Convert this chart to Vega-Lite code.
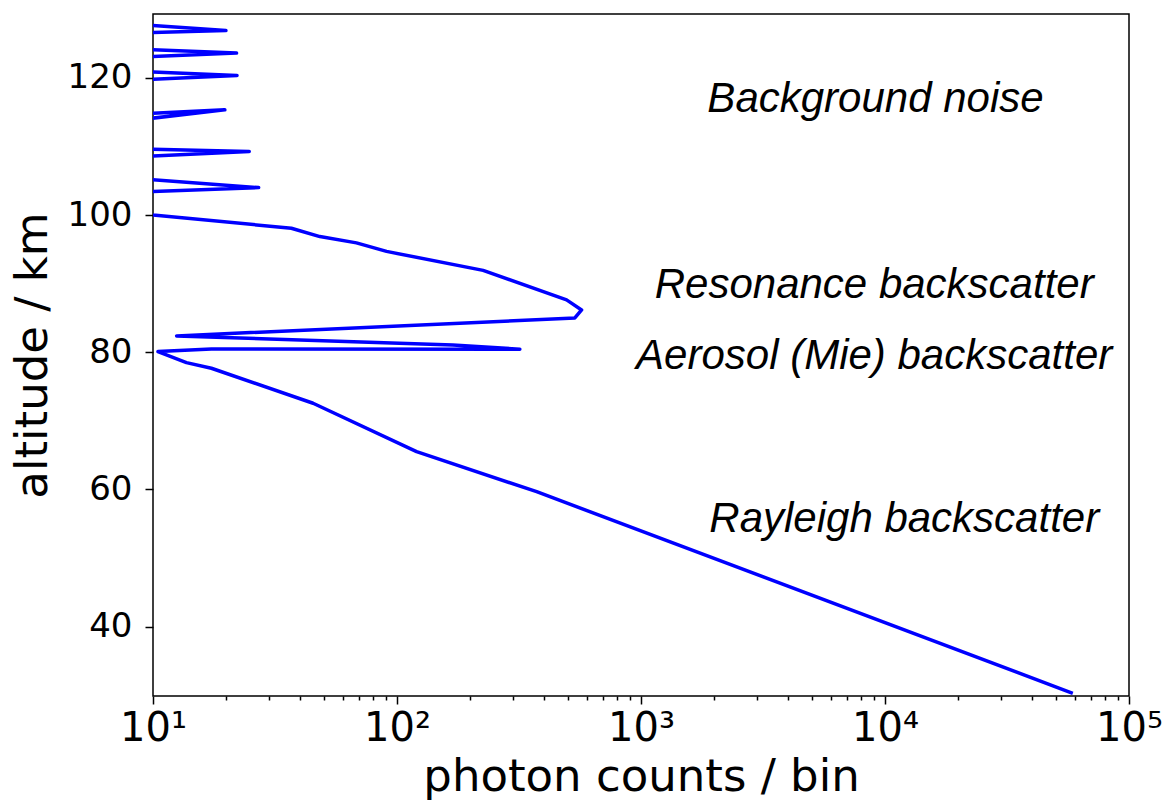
{
  "$schema": "https://vega.github.io/schema/vega-lite/v6.json",
  "width": 976,
  "height": 682,
  "autosize": {"type": "none"},
  "padding": {"left": 153, "top": 14, "right": 33, "bottom": 110},
  "background": "white",
  "config": {
    "view": {"stroke": "black", "strokeWidth": 1.5},
    "axis": {
      "grid": false,
      "domain": false,
      "tickColor": "black",
      "tickWidth": 1.5,
      "labelColor": "black",
      "titleColor": "black",
      "labelFont": "DejaVu Sans",
      "titleFont": "DejaVu Sans",
      "titleFontWeight": "normal"
    }
  },
  "datasets": {
    "profile": [
      {"i": 1, "counts": 3, "alt": 128.9},
      {"i": 2, "counts": 19.9, "alt": 126.89},
      {"i": 3, "counts": 3, "alt": 126.09},
      {"i": 4, "counts": 3, "alt": 124.82},
      {"i": 5, "counts": 22.0, "alt": 123.6},
      {"i": 6, "counts": 3, "alt": 122.35},
      {"i": 7, "counts": 3, "alt": 121.59},
      {"i": 8, "counts": 22.1, "alt": 120.33},
      {"i": 9, "counts": 3, "alt": 119.0},
      {"i": 10, "counts": 3, "alt": 113.99},
      {"i": 11, "counts": 19.7, "alt": 115.33},
      {"i": 12, "counts": 3, "alt": 111.98},
      {"i": 13, "counts": 3, "alt": 110.05},
      {"i": 14, "counts": 24.8, "alt": 109.25},
      {"i": 15, "counts": 3, "alt": 107.78},
      {"i": 16, "counts": 3, "alt": 106.5},
      {"i": 17, "counts": 27.1, "alt": 104.0},
      {"i": 18, "counts": 3, "alt": 102.72},
      {"i": 19, "counts": 10, "alt": 100.0},
      {"i": 20, "counts": 36.9, "alt": 98.08},
      {"i": 21, "counts": 48.3, "alt": 96.86},
      {"i": 22, "counts": 68.2, "alt": 95.94},
      {"i": 23, "counts": 90.6, "alt": 94.7},
      {"i": 24, "counts": 225.4, "alt": 91.93},
      {"i": 25, "counts": 495.5, "alt": 87.63},
      {"i": 26, "counts": 570.9, "alt": 86.17},
      {"i": 27, "counts": 535.7, "alt": 85.0},
      {"i": 28, "counts": 12.5, "alt": 82.38},
      {"i": 29, "counts": 169.4, "alt": 81.07},
      {"i": 30, "counts": 318.8, "alt": 80.44},
      {"i": 31, "counts": 17.35, "alt": 80.49},
      {"i": 32, "counts": 10.48, "alt": 80.1},
      {"i": 33, "counts": 13.71, "alt": 78.49},
      {"i": 34, "counts": 17.35, "alt": 77.67},
      {"i": 35, "counts": 45.3, "alt": 72.57},
      {"i": 36, "counts": 120.3, "alt": 65.51},
      {"i": 37, "counts": 373.5, "alt": 59.68},
      {"i": 38, "counts": 58850, "alt": 30.29}
    ],
    "notes": [
      {"label": "Background noise", "counts": 9140, "alt": 115.08},
      {"label": "Resonance backscatter", "counts": 9030, "alt": 87.97},
      {"label": "Aerosol (Mie) backscatter", "counts": 9030, "alt": 77.57},
      {"label": "Rayleigh backscatter", "counts": 11990, "alt": 53.85}
    ]
  },
  "layer": [
    {
      "data": {"name": "profile"},
      "mark": {"type": "line", "color": "#0000ff", "strokeWidth": 3.5, "strokeJoin": "round", "strokeCap": "butt", "clip": true},
      "encoding": {
        "order": {"field": "i", "type": "quantitative"},
        "x": {
          "field": "counts",
          "type": "quantitative",
          "scale": {"type": "log", "domain": [10, 100000], "nice": false},
          "axis": {
            "values": [10, 20, 30, 40, 50, 60, 70, 80, 90, 100, 200, 300, 400, 500, 600, 700, 800, 900, 1000, 2000, 3000, 4000, 5000, 6000, 7000, 8000, 9000, 10000, 20000, 30000, 40000, 50000, 60000, 70000, 80000, 90000, 100000],
            "labelExpr": "datum.value == 10 ? '10¹' : datum.value == 100 ? '10²' : datum.value == 1000 ? '10³' : datum.value == 10000 ? '10⁴' : datum.value == 100000 ? '10⁵' : ''",
            "tickSize": {"condition": {"test": "indexof([10,100,1000,10000,100000], datum.value) >= 0", "value": 8}, "value": 4},
            "labelFontSize": 40,
            "labelPadding": 4,
            "labelOverlap": false,
            "labelFlush": false,
            "labelBound": false,
            "title": "photon counts / bin",
            "titleFontSize": 45,
            "titlePadding": 6
          }
        },
        "y": {
          "field": "alt",
          "type": "quantitative",
          "scale": {"domain": [29.9, 129.3], "nice": false, "zero": false},
          "axis": {
            "values": [40, 60, 80, 100, 120],
            "tickSize": 8,
            "labelFontSize": 34,
            "labelPadding": 13,
            "title": "altitude / km",
            "titleFontSize": 45,
            "titlePadding": 12
          }
        }
      }
    },
    {
      "data": {"name": "notes"},
      "mark": {"type": "text", "font": "Liberation Sans", "fontStyle": "italic", "fontSize": 42, "align": "center", "baseline": "alphabetic", "color": "black"},
      "encoding": {
        "x": {"field": "counts", "type": "quantitative"},
        "y": {"field": "alt", "type": "quantitative"},
        "text": {"field": "label", "type": "nominal"}
      }
    }
  ]
}
